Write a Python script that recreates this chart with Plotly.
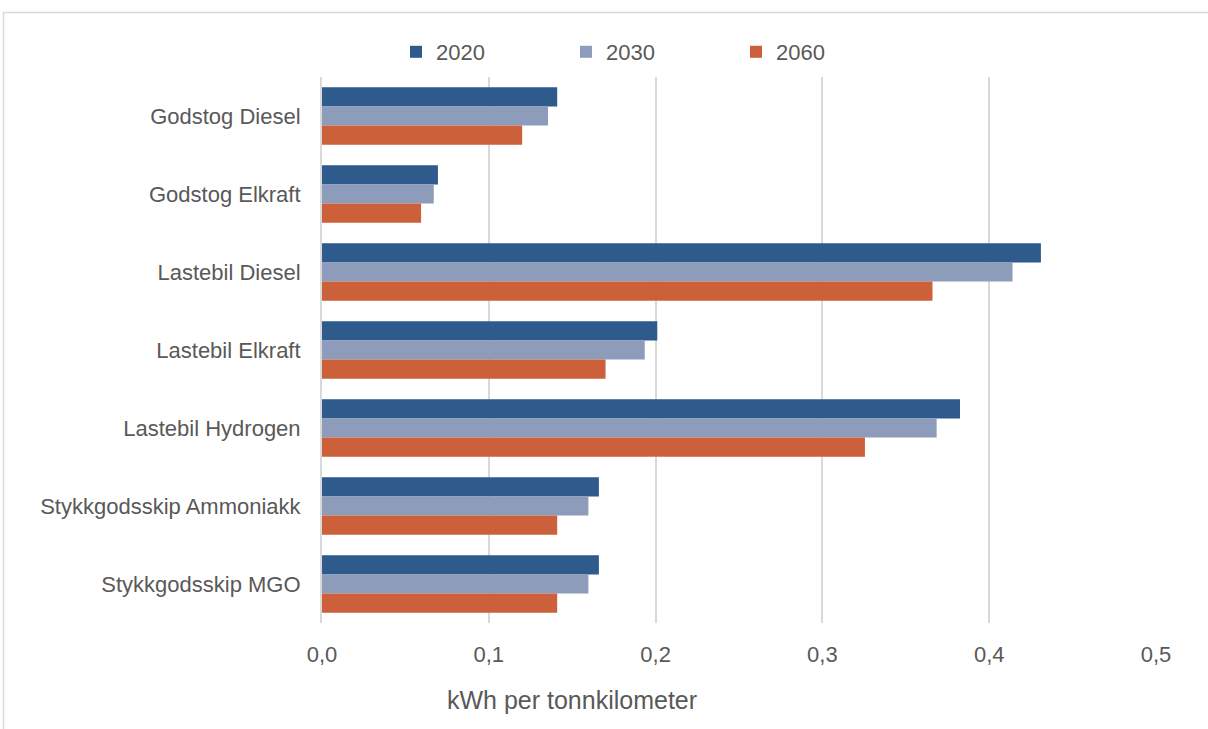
import plotly.graph_objects as go

# Energy use per tonne-kilometre by transport mode and year
categories = [
    "Godstog Diesel",
    "Godstog Elkraft",
    "Lastebil Diesel",
    "Lastebil Elkraft",
    "Lastebil Hydrogen",
    "Stykkgodsskip Ammoniakk",
    "Stykkgodsskip MGO",
]
years = ["2020", "2030", "2060"]
values_2020 = [0.141, 0.0695, 0.431, 0.201, 0.3825, 0.166, 0.166]
values_2030 = [0.1355, 0.067, 0.414, 0.1935, 0.3685, 0.1597, 0.1597]
values_2060 = [0.120, 0.0594, 0.366, 0.170, 0.3255, 0.141, 0.141]
x_ticks = [0.0, 0.1, 0.2, 0.3, 0.4, 0.5]
x_title = "kWh per tonnkilometer"

colors = ["#2E5A8C", "#8E9CBC", "#CC603B"]
series = [values_2020, values_2030, values_2060]

W, H = 1208, 729
L, R, T, B = 322, 52, 77, 106
pw, ph = W - L - R, H - T - B


def px_x(p):
    return (p - L) / pw


def px_y(p):
    return (H - B - p) / ph


FONT = "Liberation Sans"
GREY = "#595959"

fig = go.Figure()
for name, vals, col in zip(years, series, colors):
    fig.add_trace(go.Bar(
        y=categories, x=vals, name=name, orientation="h",
        marker=dict(color=col, line=dict(width=0)),
    ))

fig.update_layout(
    width=W, height=H,
    margin=dict(l=L, r=R, t=T, b=B, pad=0),
    paper_bgcolor="white", plot_bgcolor="white",
    barmode="group", bargap=0.26, bargroupgap=0,
    separators=",.",
    font=dict(family=FONT, color=GREY, size=22),
    showlegend=True,
    legend=dict(
        orientation="h", x=px_x(396), xanchor="left",
        y=px_y(52), yanchor="middle",
        font=dict(size=22, color=GREY), entrywidth=125,
        traceorder="normal", itemclick=False,
    ),
    xaxis=dict(
        range=[0, 0.5], tickvals=x_ticks, tickformat=".1f",
        showgrid=True, gridcolor="#D9D9D9", gridwidth=2,
        zeroline=False, showline=False, ticks="",
        ticklabelstandoff=16, tickfont=dict(size=22, color=GREY),
    ),
    yaxis=dict(
        autorange="reversed", showgrid=False, zeroline=False,
        showline=True, linecolor="#D9D9D9", linewidth=2,
        ticks="", ticklabelstandoff=15, tickfont=dict(size=22, color=GREY),
    ),
    annotations=[dict(
        text=x_title, xref="paper", yref="paper",
        x=px_x(572), y=px_y(700), xanchor="center", yanchor="middle",
        showarrow=False, font=dict(size=25, color=GREY),
    )],
    shapes=[dict(
        type="rect", xref="paper", yref="paper",
        x0=px_x(3.5), x1=px_x(1215), y0=px_y(740), y1=px_y(12.5),
        line=dict(color="#D9D9D9", width=1.5), fillcolor="rgba(0,0,0,0)",
        layer="below",
    )],
)

fig.write_html("out.html")
